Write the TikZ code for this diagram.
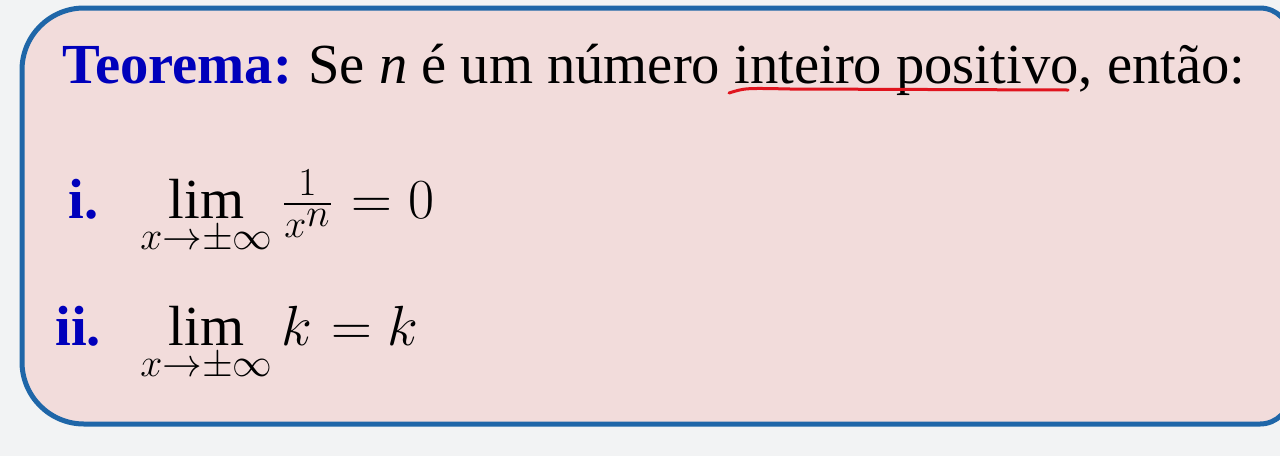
\RequirePackage{fix-cm}
\documentclass[tikz,border=0pt]{standalone}
\usepackage{amsmath}
\usepackage{fontspec}
\setmainfont{Liberation Serif}
\usepackage{tikz}
\usetikzlibrary{positioning}

\definecolor{boxfill}{HTML}{F2DCDB}
\definecolor{boxline}{HTML}{1F66A8}
\definecolor{thmblue}{HTML}{0000BB}
\definecolor{pagebg}{HTML}{F2F3F4}
\definecolor{penred}{HTML}{E0141E}

\newcommand{\eqsign}{\mathrel{\mkern1mu=\mkern0mu}}

\tikzset{
    txt/.style={inner sep=0pt, anchor=base west, font=\fontsize{28.3}{34}\selectfont},
    lbl/.style={txt, text=thmblue, font=\fontsize{28.3}{34}\selectfont\bfseries},
}

\begin{document}
\begin{tikzpicture}[x=0.5pt, y=-0.5pt]
    \useasboundingbox[fill=pagebg] (0, 0) rectangle (1280, 456);
    % framed box
    \begin{scope}
        \clip (0, 0) rectangle (1280, 456);
        \draw[boxline, line width=2.5pt, fill=boxfill]
            (22, 70) arc[start angle=180, end angle=90, radius=31pt]
            -- (1260, 8) arc[start angle=90, end angle=0, radius=15pt]
            -- (1290, 394) arc[start angle=0, end angle=-90, radius=15pt]
            -- (84, 424) arc[start angle=270, end angle=180, radius=31pt] -- cycle;
    \end{scope}
    \node[lbl] (thm) at (62, 83) {Teorema:};
    \node[txt] (stmt) at (308, 83)
        {Se \textit{n} é um número inteiro positivo, então:};
    % pen mark
    \draw[penred, line width=1.5pt, line cap=round]
        (729, 93) .. controls (745, 88) .. (790, 89) -- (1068, 90);
    \node[lbl] (one) at (68, 218) {i.};
    \node[txt] (limone) at (140, 218)
        {$\lim\limits_{x\to\pm\infty}\tfrac{1}{x^{\scriptstyle n}}\eqsign 0$};
    \node[lbl] (two) at (55, 345) {ii.};
    \node[txt] (limtwo) at (140, 345)
        {$\lim\limits_{x\to\pm\infty}k\eqsign k$};
\end{tikzpicture}
\end{document}
